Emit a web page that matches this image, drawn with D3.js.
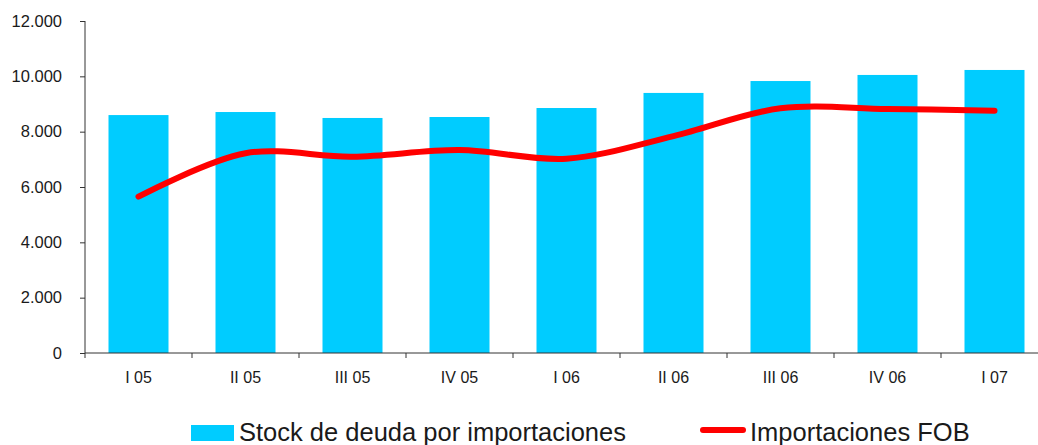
<!DOCTYPE html>
<html>
<head>
<meta charset="utf-8">
<script src="https://cdn.jsdelivr.net/npm/d3@7"></script>
<style>
  html, body { margin: 0; padding: 0; background: #fff; }
  svg { display: block; font-family: "Liberation Sans", Arial, sans-serif; }
</style>
</head>
<body>
<svg id="chart" width="1038" height="445"></svg>
<script>
const categories = ["I 05", "II 05", "III 05", "IV 05", "I 06", "II 06", "III 06", "IV 06", "I 07"];
const stockDeuda = [8600, 8710, 8495, 8530, 8855, 9400, 9830, 10050, 10230];
const importacionesFOB = [5650, 7220, 7095, 7335, 7025, 7840, 8845, 8820, 8760];
const yTicks = [0, 2000, 4000, 6000, 8000, 10000, 12000];
const seriesNames = ["Stock de deuda por importaciones", "Importaciones FOB"];

const svg = d3.select("#chart");
const textColor = "#1a1a1a";

const x = d3.scaleBand().domain(categories).range([85, 1048]).paddingInner(47 / 107).paddingOuter(47 / 214);
const y = d3.scaleLinear().domain([0, 12000]).range([353, 21]);

const fmt = v => d3.format(",")(v).replace(/,/g, ".");

// bars
svg.append("g").selectAll("rect").data(categories).join("rect")
  .attr("x", d => x(d))
  .attr("y", (d, i) => y(stockDeuda[i]))
  .attr("width", x.bandwidth())
  .attr("height", (d, i) => y(0) - y(stockDeuda[i]))
  .attr("fill", "#00CCFF");

// y axis
const yAxis = svg.append("g").attr("transform", "translate(85,0)")
  .call(d3.axisLeft(y).tickValues(yTicks).tickFormat(fmt).tickSize(5).tickPadding(18));
yAxis.select(".domain").attr("stroke", "#333").attr("d", `M0,${y(12000)}V${y(0)}`);
yAxis.selectAll(".tick line").attr("stroke", "#333");
yAxis.selectAll("text").attr("font-size", "16.5px").attr("fill", textColor)
  .attr("font-family", "Liberation Sans, Arial, sans-serif");

// x axis
const xAxisG = svg.append("g").attr("transform", `translate(0,${y(0)})`);
xAxisG.append("line").attr("x1", 85).attr("x2", 1038).attr("y1", 0).attr("y2", 0).attr("stroke", "#333");
const boundaries = categories.map(c => x(c) - x.step() * x.paddingInner() / 2).concat([x(categories[categories.length - 1]) + x.bandwidth() + x.step() * x.paddingInner() / 2]);
xAxisG.selectAll("line.tk").data(boundaries).join("line").attr("class", "tk")
  .attr("x1", d => d).attr("x2", d => d).attr("y1", 0).attr("y2", 5).attr("stroke", "#333");
xAxisG.selectAll("text").data(categories).join("text")
  .attr("x", d => x(d) + x.bandwidth() / 2)
  .attr("y", 30)
  .attr("text-anchor", "middle")
  .attr("font-size", "16px")
  .attr("fill", textColor)
  .text(d => d);

// line
const line = d3.line()
  .x((d, i) => x(categories[i]) + x.bandwidth() / 2)
  .y(d => y(d))
  .curve(d3.curveCatmullRom.alpha(0.5));
svg.append("path").datum(importacionesFOB)
  .attr("d", line)
  .attr("fill", "none")
  .attr("stroke", "#FF0000")
  .attr("stroke-width", 6)
  .attr("stroke-linecap", "round")
  .attr("stroke-linejoin", "round");

// legend
const lg = svg.append("g");
lg.append("rect").attr("x", 191).attr("y", 425).attr("width", 43).attr("height", 16).attr("fill", "#00CCFF");
lg.append("text").attr("x", 239).attr("y", 441).attr("font-size", "25.5px").attr("fill", textColor).text(seriesNames[0]);
lg.append("line").attr("x1", 703).attr("x2", 743).attr("y1", 430).attr("y2", 430)
  .attr("stroke", "#FF0000").attr("stroke-width", 6).attr("stroke-linecap", "round");
lg.append("text").attr("x", 750).attr("y", 441).attr("font-size", "25.5px").attr("fill", textColor).text(seriesNames[1]);
</script>
</body>
</html>
